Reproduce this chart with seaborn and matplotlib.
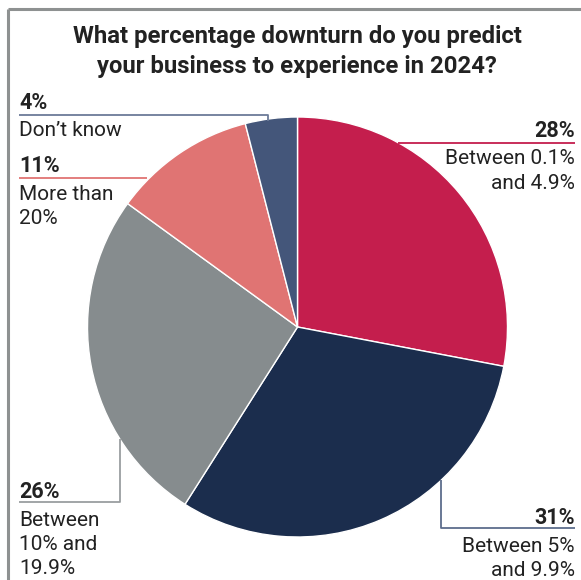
import matplotlib
matplotlib.use("Agg")
import matplotlib.pyplot as plt
import seaborn as sns

# Survey answers, clockwise from the top
categories = ["Between 0.1%\nand 4.9%", "Between 5%\nand 9.9%", "Between\n10% and\n19.9%",
              "More than\n20%", "Don\u2019t know"]
shares = [28, 31, 26, 11, 4]
colors = ["#C41E4D", "#1B2D4D", "#868C8E", "#E07473", "#44567A"]
line_colors = ["#C41E4D", "#5D6D8C", "#9A9EA0", "#E07473", "#6C7B98"]

sns.set_theme(style="white")
plt.rcParams["font.family"] = ["Roboto", "DejaVu Sans"]

W, H = 581, 580
fig = plt.figure(figsize=(W / 100, H / 100), dpi=100)
ax = fig.add_axes([0, 0, 1, 1])

cx, cy, r = 297.5, 327, 210
ax.pie(shares, colors=sns.color_palette(colors), startangle=-90, counterclock=True,
       center=(cx, cy), radius=r,
       wedgeprops=dict(edgecolor="white", linewidth=1.0))
ax.set_xlim(0, W)
ax.set_ylim(H, 0)
ax.set_aspect("equal")
ax.axis("off")

# frame on the top and left edges
border = "#8E9191"
ax.plot([8, W], [9, 9], color=border, lw=2.2, solid_capstyle="butt")
ax.plot([8, 8], [9, H], color=border, lw=2.2, solid_capstyle="butt")

ink = "#222222"
ax.text(297, 36, "What percentage downturn do you predict", ha="center", va="center",
        fontsize=17.2, fontweight="bold", color=ink)
ax.text(297, 66, "your business to experience in 2024?", ha="center", va="center",
        fontsize=17.2, fontweight="bold", color=ink)

pct_fs = 15.5
lab_fs = 15
lh = 24.5


def label(x, y_pct, pct, text, ha, color, line_pts):
    ax.text(x, y_pct, f"{pct}%", ha=ha, va="center", fontsize=pct_fs,
            fontweight="bold", color=ink)
    for i, ln in enumerate(text.split("\n")):
        ax.text(x, y_pct + 28 + i * lh, ln, ha=ha, va="center", fontsize=lab_fs, color=ink)
    xs, ys = zip(*line_pts)
    ax.plot(xs, ys, color=color, lw=1.3, solid_capstyle="butt")


# 28%
label(575, 131, shares[0], categories[0], "right", line_colors[0],
      [(398, 143), (575, 143)])
# 31%
label(575, 518, shares[1], categories[1], "right", line_colors[1],
      [(441, 480), (441, 528), (575, 528)])
# 26%
label(19, 492, shares[2], categories[2], "left", line_colors[2],
      [(120, 439), (120, 502), (19, 502)])
# 11%
label(19, 166, shares[3], categories[3], "left", line_colors[3],
      [(147, 178), (19, 178)])
# 4%
label(19, 103, shares[4], categories[4], "left", line_colors[4],
      [(19, 115), (268, 115), (268, 121)])

fig.savefig("out.png", dpi=100)
